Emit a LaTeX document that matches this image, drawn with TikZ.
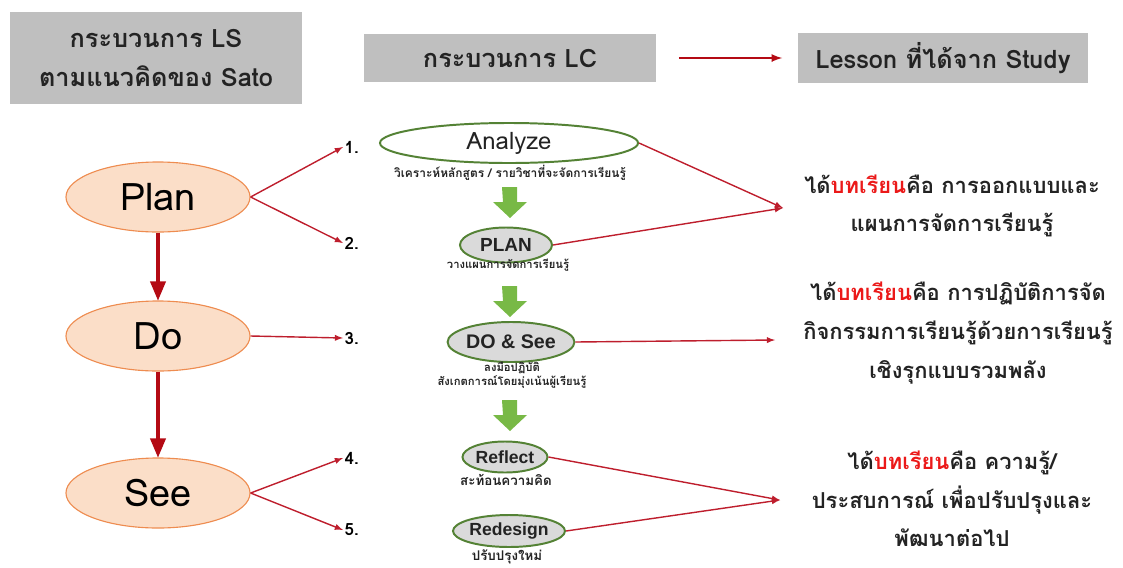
\documentclass[tikz,border=0pt]{standalone}
\usepackage{fontspec}
\setmainfont[Script=Thai]{Loma}
\newfontfamily\arialfont{Liberation Sans}
\usepackage{tikz}
\usetikzlibrary{arrows,shapes.geometric}
\definecolor{boxgray}{RGB}{191,191,191}
\definecolor{textdark}{RGB}{35,35,35}
\definecolor{pdsfill}{RGB}{251,222,200}
\definecolor{pdsline}{RGB}{238,140,80}
\definecolor{darkred}{RGB}{180,10,20}
\definecolor{linered}{RGB}{190,30,45}
\definecolor{lcgreen}{RGB}{84,130,53}
\definecolor{lcfill}{RGB}{218,218,218}
\definecolor{arrowgreen}{RGB}{120,185,70}
\definecolor{lessonred}{RGB}{235,25,25}

\begin{document}
\begin{tikzpicture}[x=0.025cm,y=-0.025cm,
  graybox/.style={fill=boxgray,inner sep=0pt,align=center,text=textdark,
    font=\fontsize{18}{28}\selectfont\bfseries},
  pdsnode/.style={ellipse,draw=pdsline,fill=pdsfill,line width=0.8pt,
    minimum width=4.6cm,minimum height=1.75cm,inner sep=0pt,
    font=\fontsize{27}{32}\selectfont},
  lcnode/.style={ellipse,draw=lcgreen,fill=lcfill,line width=1.4pt,inner sep=0pt,
    font=\arialfont\fontsize{12.5}{14}\selectfont\bfseries,text=textdark},
  sublabel/.style={font=\fontsize{8}{10}\selectfont\bfseries,align=center,text=textdark},
  numlabel/.style={anchor=west,inner sep=1pt,font=\fontsize{12}{14}\selectfont\bfseries},
  lesson/.style={align=center,font=\fontsize{15.6}{27.5}\selectfont\bfseries,text=textdark},
  redline/.style={linered,line width=1pt,-latex},
  bigarrow/.style={darkred,line width=2.2pt,-triangle 45}
]
\useasboundingbox (0,0) rectangle (1123,567);

% header boxes
\node[graybox,minimum width=7.275cm,minimum height=2.275cm] (lsbox) at (156,58)
  {กระบวนการ LS\\ตามแนวคิดของ Sato};
\node[graybox,minimum width=7.275cm,minimum height=1.2cm] (lcbox) at (510,58)
  {กระบวนการ LC};
\node[graybox,minimum width=7.225cm,minimum height=1.225cm] (studybox) at (943,58)
  {Lesson ที่ได้จาก Study};
\draw[darkred,line width=1.6pt,-latex,shorten <=0.575cm,shorten >=0.4cm]
  (lcbox.east) -- (studybox.west);

% Plan - Do - See
\node[pdsnode] (plan) at (158,197) {Plan};
\node[pdsnode] (do) at (158,336) {Do};
\node[pdsnode] (see) at (158,493) {See};
\draw[bigarrow] (plan) -- (do);
\draw[bigarrow] (do) -- (see);

% step numbers
\node[numlabel] (n1) at (343,147) {1.};
\node[numlabel] (n2) at (343,243) {2.};
\node[numlabel] (n3) at (343,338) {3.};
\node[numlabel] (n4) at (343,458) {4.};
\node[numlabel] (n5) at (343,530) {5.};
\draw[redline] (plan.east) -- (n1.west);
\draw[redline] (plan.east) -- (n2.west);
\draw[redline] (do.east) -- (n3.west);
\draw[redline] (see.east) -- (n4.west);
\draw[redline] (see.east) -- (n5.west);

% LC steps
\node[lcnode,fill=white,minimum width=6.45cm,minimum height=1.0cm,
  font=\fontsize{17}{20}\selectfont] (analyze) at (509,143) {Analyze};
\node[lcnode,minimum width=2.3cm,minimum height=0.875cm,
  font=\arialfont\fontsize{13.5}{15}\selectfont\bfseries] (plc) at (506,245) {PLAN};
\node[lcnode,minimum width=2.675cm,minimum height=1.0cm,
  font=\arialfont\fontsize{14}{15}\selectfont\bfseries] (dosee) at (511,342) {DO \& See};
\node[lcnode,minimum width=2.125cm,minimum height=0.775cm] (reflect) at (505,457) {Reflect};
\node[lcnode,minimum width=2.8cm,minimum height=0.8cm] (redesign) at (509,531) {Redesign};

\node[sublabel,font=\fontsize{8.5}{9}\selectfont\bfseries] (subanalyze) at (510,173)
  {วิเคราะห์หลักสูตร / รายวิชาที่จะจัดการเรียนรู้};
\node[sublabel] (subplan) at (508,265) {วางแผนการจัดการเรียนรู้};
\node[sublabel] (subdo) at (512,375) {ลงมือปฏิบัติ\\สังเกตการณ์โดยมุ่งเน้นผู้เรียนรู้};
\node[sublabel,font=\fontsize{9.5}{10}\selectfont\bfseries] (subreflect) at (506,480) {สะท้อนความคิด};
\node[sublabel,font=\fontsize{9.5}{10}\selectfont\bfseries] (subredesign) at (507,557) {ปรับปรุงใหม่};

% green block arrows
\foreach \y in {187,286,400}
  \fill[arrowgreen] (502,\y) -- ++(15,0) -- ++(0,15) -- ++(10,0) -- ++(-17,16)
    -- ++(-17,-16) -- ++(10,0) -- cycle;

% lessons
\coordinate (m1) at (783,208);
\coordinate (m2) at (775,340);
\coordinate (m3) at (780,500);
\draw[redline] (analyze.east) -- (m1);
\draw[redline] (plc.east) -- (m1);
\draw[redline] (dosee.east) -- (m2);
\draw[redline] (reflect.east) -- (m3);
\draw[redline] (redesign.east) -- (m3);

\node[lesson] (les1) at (952,206)
  {ได้\textcolor{lessonred}{บทเรียน}คือ การออกแบบและ\\แผนการจัดการเรียนรู้};
\node[lesson] (les2) at (958,333)
  {ได้\textcolor{lessonred}{บทเรียน}คือ การปฏิบัติการจัด\\กิจกรรมการเรียนรู้ด้วยการเรียนรู้\\เชิงรุกแบบรวมพลัง};
\node[lesson] (les3) at (952,499)
  {ได้\textcolor{lessonred}{บทเรียน}คือ ความรู้/\\ประสบการณ์ เพื่อปรับปรุงและ\\พัฒนาต่อไป};
\end{tikzpicture}
\end{document}
